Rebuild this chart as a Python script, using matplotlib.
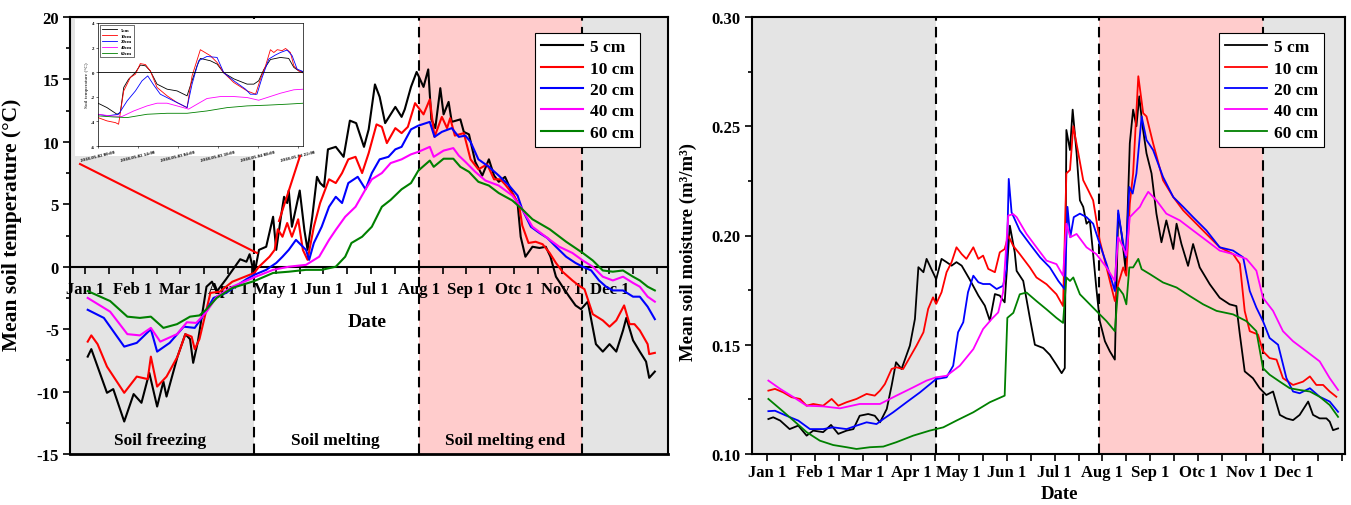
import numpy as np
import matplotlib.pyplot as plt
from matplotlib.lines import Line2D
from matplotlib.patches import Rectangle
from matplotlib.ticker import FixedLocator, MultipleLocator, FormatStrFormatter

plt.rcParams['font.family'] = ['Liberation Serif', 'DejaVu Serif']
plt.rcParams['font.weight'] = 'bold'
plt.rcParams['axes.unicode_minus'] = False

W, H = 1351, 506

months = ['Jan 1', 'Feb 1', 'Mar 1', 'Apr 1', 'May 1', 'Jun 1', 'Jul 1',
          'Aug 1', 'Sep 1', 'Otc 1', 'Nov 1', 'Dec 1']
depths = ['5 cm', '10 cm', '20 cm', '40 cm', '60 cm']
depths_inset = ['5cm', '10cm', '20cm', '40cm', '60cm']
colors = ['black', 'red', 'blue', 'magenta', 'green']
stages = ['Soil freezing', 'Soil melting', 'Soil melting end']

# ---- mean soil temperature (day of year, degC) ----
t5_day = [1.7, 4, 8, 14, 18, 25, 31, 36, 41, 46, 50, 52, 59, 64, 67, 69, 72, 77.5, 81, 84, 90, 94.5,
          99, 103, 105, 108, 111, 115.6, 120, 122, 125, 127, 129, 130, 132, 137, 140, 142, 145, 148,
          150, 152.5, 155, 160, 165, 169, 173, 178, 181, 185, 188, 191.5, 198, 202, 204, 208, 211.6,
          216, 219, 221, 223.5, 226.7, 228.8, 232, 234, 239.5, 241.7, 245, 249, 253.5, 257.7, 261,
          264, 268, 272.7, 276, 278, 281, 285.5, 290, 294, 297, 300.5, 304.7, 309, 313, 316.5, 320.8,
          326, 330.4, 334.7, 339, 343.3, 345.4, 349.7, 354, 358, 360, 363.6]
t5 = [-7.2, -6.6, -8.0, -10.1, -9.8, -12.4, -10.2, -10.9, -8.5, -11.2, -9.2, -10.4, -7.2, -5.4, -5.8,
      -7.7, -6.0, -1.6, -1.2, -2.0, -1.0, -0.2, 0.6, 0.4, 1.0, -0.6, 1.35, 1.6, 4.0, 1.35, 4.0, 5.6,
      5.1, 6.1, 3.2, 6.1, 2.9, 1.35, 4.0, 7.2, 6.7, 6.4, 9.4, 9.6, 8.8, 11.7, 11.5, 9.6, 11.0, 14.6,
      13.6, 11.5, 12.8, 12.0, 12.6, 14.4, 15.6, 14.4, 15.8, 11.8, 11.1, 14.3, 12.2, 13.2, 11.6, 11.8,
      10.8, 10.6, 8.4, 7.3, 8.6, 7.3, 6.8, 7.2, 5.9, 5.1, 2.4, 0.8, 1.6, 1.5, 1.6, 0.8, -0.8, -1.6,
      -2.4, -3.1, -3.4, -2.8, -6.2, -6.8, -6.2, -6.8, -5.1, -4.1, -5.9, -6.8, -7.6, -8.9, -8.4]

t10_day = [1.7, 4, 8, 14, 25, 33, 40, 42, 46, 52, 59, 64, 68, 70, 73, 80, 86, 94, 108, 111, 117.7,
           121, 123, 126, 129, 132, 136, 139, 142, 146, 150, 155.7, 160, 164, 168, 172.6, 176.8, 181,
           186, 189.4, 192.6, 198, 202, 206, 210.6, 216, 220, 223, 227.7, 231, 233, 236, 241.7, 246,
           251, 256.6, 261, 265, 268, 273.7, 277, 279, 283, 287.5, 292, 296.5, 300.5, 304.7, 311,
           315, 318.7, 324, 330.4, 334.7, 339, 344, 347.5, 350.6, 354, 359, 360, 363.6]
t10 = [-6.0, -5.5, -6.2, -8.0, -10.1, -8.8, -9.0, -7.2, -9.6, -8.8, -7.2, -5.4, -5.6, -6.6, -5.8,
       -2.1, -2.0, -1.2, -0.5, 0.0, 0.8, 1.35, 3.0, 2.4, 3.5, 2.4, 3.8, 1.35, 0.55, 3.2, 5.1, 7.0,
       6.7, 7.5, 8.6, 8.8, 7.5, 9.1, 11.4, 11.2, 9.9, 11.1, 10.7, 11.2, 13.1, 12.2, 13.4, 10.4, 12.0,
       11.1, 11.9, 10.5, 10.7, 8.6, 7.8, 8.2, 7.0, 7.0, 6.6, 5.7, 4.9, 3.3, 1.9, 2.0, 1.8, 1.1, 0.3,
       -0.4, -1.1, -1.5, -1.8, -3.8, -4.3, -4.8, -4.3, -3.1, -4.6, -4.6, -5.1, -6.2, -7.0, -6.9]

t20_day = [1.7, 12, 25, 33, 42, 46, 54, 63, 70, 75, 82, 90, 103, 108, 115.6, 122, 126, 130, 134.6,
           139, 141, 143, 146, 151, 155.7, 160, 164, 168, 174, 179, 183, 188, 193.6, 198, 202, 208,
           212.7, 220, 223, 227.7, 234, 238.5, 242.7, 246, 251, 257.7, 264, 270.6, 276, 279, 284.5,
           290, 295, 300.5, 307, 313, 317.6, 323, 328, 332.5, 336.8, 343.3, 349.7, 354, 359, 363.6]
t20 = [-3.45, -4.1, -6.4, -6.1, -5.0, -6.8, -6.1, -4.8, -4.9, -4.0, -2.5, -2.1, -1.0, -0.65, -0.25,
       0.3, 0.8, 1.35, 2.15, 1.6, 1.35, 0.55, 1.9, 3.2, 4.8, 5.6, 5.1, 6.7, 7.2, 6.2, 7.5, 8.6, 8.8,
       9.4, 9.6, 11.0, 11.3, 11.6, 10.4, 10.8, 11.1, 10.4, 10.5, 10.0, 8.6, 8.0, 7.3, 6.5, 5.7, 4.6,
       3.2, 2.7, 2.3, 1.6, 0.8, 0.3, 0.0, -0.3, -1.1, -1.6, -1.9, -1.9, -2.4, -2.4, -3.2, -4.2]

t40_day = [1.7, 16, 27, 35, 42, 48, 58.7, 65, 71, 77.6, 84, 94, 108, 120, 130, 141, 149.4, 155.7,
           160, 166, 172.6, 179, 183, 189.4, 195, 202, 208, 212.7, 220, 222.5, 228.8, 235, 238.5,
           242.7, 249, 255.5, 264, 272.7, 279, 285.5, 294, 302.6, 311, 317.6, 324, 330.4, 336.8,
           343.3, 349.7, 354, 359, 363.6]
t40 = [-2.5, -3.6, -5.4, -5.5, -4.9, -6.0, -5.4, -4.45, -4.5, -3.6, -2.4, -1.6, -0.85, -0.25, 0.0,
       0.15, 0.8, 2.15, 2.95, 4.0, 4.8, 6.2, 7.0, 7.5, 8.3, 8.6, 9.0, 9.2, 9.6, 8.8, 9.3, 9.5, 8.9,
       8.4, 7.6, 6.9, 6.5, 5.7, 4.6, 3.2, 2.4, 1.6, 1.1, 0.5, 0.0, -0.8, -1.1, -0.8, -1.3, -1.6,
       -2.4, -2.8]

t60_day = [1.7, 16, 27, 35, 42, 50, 58.7, 67, 73, 77.6, 84, 94, 108, 120, 130, 141, 151, 160, 166,
           170, 176.8, 183, 189.4, 195, 202, 208, 212.7, 220, 222.5, 228.8, 235, 239.5, 245, 251,
           257.7, 264, 272.7, 279, 285.5, 296.5, 307, 317.6, 324, 330.4, 336.8, 343.3, 349.7, 354,
           359, 363.6]
t60 = [-1.95, -2.75, -4.0, -4.1, -4.0, -4.9, -4.6, -4.0, -3.9, -3.4, -2.5, -1.7, -1.15, -0.5, -0.4,
       -0.25, -0.25, 0.0, 0.8, 1.9, 2.4, 3.2, 4.8, 5.35, 6.2, 6.7, 7.7, 8.5, 8.0, 8.65, 8.65, 8.0,
       7.6, 6.8, 6.5, 5.9, 5.3, 4.6, 3.8, 3.0, 2.0, 1.1, 0.5, -0.3, -0.4, -0.3, -0.8, -1.1, -1.6,
       -1.9]

# ---- mean soil moisture (day of year, m3/m3) ----
m5_day = [0.7, 3.8, 8.2, 14.2, 19.7, 25.0, 29.2, 35.5, 40.5, 45.1, 50.4, 54.7, 58.7, 64.1, 68.3,
          71.6, 75.9, 79.0, 81.8, 85.3, 90.6, 93.8, 96.0, 99.2, 101.2, 104.2, 107.3, 110.7, 113.9,
          117.1, 120.2, 123.5, 128.5, 134.1, 138.2, 141.4, 144.6, 147.7, 150.8, 154.1, 157.2, 158.4,
          162.6, 166.8, 170.0, 175.3, 179.5, 183.7, 187.0, 189.0, 190.0, 192.3, 194.0, 196.5, 198.6,
          200.7, 202.8, 204.9, 207.0, 209.0, 211.2, 214.5, 217.6, 220.8, 222.9, 225.1, 227.7, 230.3,
          232.4, 234.5, 236.3, 238.4, 240.9, 244.1, 247.2, 250.4, 253.5, 257.9, 260.0, 263.1, 267.3,
          270.5, 274.7, 281.1, 287.4, 293.7, 298.0, 300.2, 303.3, 308.5, 312.8, 317.0, 321.3, 325.6,
          329.8, 334.0, 338.2, 343.6, 346.7, 350.9, 355.2, 357.3, 359.4, 362.6]
m5 = [0.116, 0.1168, 0.1153, 0.1114, 0.113, 0.1084, 0.1107, 0.110, 0.1133, 0.1092, 0.1107, 0.1114,
      0.1175, 0.1183, 0.1175, 0.1145, 0.1206, 0.1313, 0.142, 0.1389, 0.1496, 0.1618, 0.1855, 0.1832,
      0.1893, 0.1847, 0.180, 0.1893, 0.1878, 0.1862, 0.1878, 0.1862, 0.180, 0.1725, 0.1679, 0.161,
      0.1732, 0.1725, 0.1694, 0.2045, 0.1923, 0.1838, 0.1792, 0.1623, 0.150, 0.1485, 0.1454, 0.1408,
      0.137, 0.1393, 0.2483, 0.2391, 0.2576, 0.2376, 0.2161, 0.2131, 0.2054, 0.2069, 0.1916, 0.1762,
      0.1609, 0.1516, 0.147, 0.1432, 0.210, 0.2007, 0.1838, 0.2422, 0.2576, 0.250, 0.2637, 0.250,
      0.2376, 0.2284, 0.210, 0.1969, 0.2069, 0.1938, 0.2054, 0.1961, 0.1861, 0.1961, 0.1854, 0.1777,
      0.1715, 0.1685, 0.1677, 0.1547, 0.1378, 0.1347, 0.1301, 0.127, 0.1286, 0.1179, 0.1163, 0.1155,
      0.1179, 0.124, 0.1179, 0.1163, 0.1163, 0.1148, 0.1109, 0.1117]

m10_day = [0.7, 4.9, 10.2, 15.4, 20.8, 25.0, 29.2, 35.5, 40.9, 45.1, 50.4, 56.7, 63.1, 68.3, 71.6,
           74.7, 79.0, 82.0, 86.3, 90.6, 94.8, 99.2, 102.2, 105.3, 107.3, 110.7, 113.9, 117.1, 120.2,
           123.5, 126.5, 130.9, 134.1, 137.1, 140.4, 144.6, 147.7, 150.8, 153.1, 156.2, 160.4, 166.8,
           171.0, 177.4, 183.7, 187.9, 190.0, 192.3, 194.4, 197.6, 200.7, 203.9, 207.0, 211.2, 215.5,
           220.8, 222.9, 226.1, 228.1, 230.3, 232.4, 235.7, 238.8, 240.9, 245.1, 251.4, 257.9, 264.2,
           270.5, 279.0, 287.4, 295.9, 300.2, 303.3, 306.5, 311.7, 314.9, 319.1, 323.5, 327.6, 334.0,
           340.3, 344.7, 348.8, 353.1, 357.3, 361.5]
m10 = [0.129, 0.1298, 0.1282, 0.126, 0.1252, 0.1221, 0.1229, 0.1221, 0.1252, 0.1221, 0.1237, 0.1252,
       0.1275, 0.1267, 0.129, 0.132, 0.1389, 0.1397, 0.1389, 0.1443, 0.1496, 0.1557, 0.1664, 0.1717,
       0.1687, 0.174, 0.1832, 0.1878, 0.1946, 0.1915, 0.1893, 0.1946, 0.1893, 0.1908, 0.1847, 0.1832,
       0.1923, 0.1938, 0.20, 0.1953, 0.1915, 0.1854, 0.1808, 0.1777, 0.1731, 0.1677, 0.2284, 0.230,
       0.250, 0.2376, 0.2253, 0.2207, 0.2161, 0.1977, 0.1854, 0.170, 0.1777, 0.1854, 0.1816, 0.2146,
       0.2284, 0.2729, 0.256, 0.2545, 0.2422, 0.2253, 0.2176, 0.2115, 0.2069, 0.2007, 0.1946, 0.1915,
       0.187, 0.1654, 0.1562, 0.1547, 0.147, 0.1439, 0.1432, 0.1347, 0.1316, 0.1331, 0.1355, 0.1316,
       0.1316, 0.1286, 0.1262]

m20_day = [0.7, 4.9, 12.2, 19.7, 27.1, 35.5, 41.9, 50.4, 56.7, 63.1, 69.4, 73.7, 80.0, 88.5, 97.0,
           107.3, 113.9, 118.1, 121.2, 124.5, 127.5, 130.9, 134.1, 137.1, 141.4, 145.7, 149.8, 152.0,
           153.4, 155.2, 160.4, 166.8, 173.3, 179.5, 184.9, 189.0, 190.7, 192.5, 194.7, 198.6, 202.8,
           207.0, 211.2, 215.5, 220.8, 222.9, 225.1, 227.7, 230.0, 232.1, 234.5, 237.8, 240.9, 245.1,
           251.4, 257.9, 264.2, 270.5, 279.0, 287.4, 295.9, 302.3, 306.5, 310.7, 314.9, 319.1, 324.5,
           329.8, 334.0, 338.2, 344.7, 350.9, 357.3, 362.6]
m20 = [0.1196, 0.1198, 0.1175, 0.1153, 0.1114, 0.1114, 0.1122, 0.1114, 0.113, 0.1145, 0.1137, 0.116,
       0.1191, 0.1237, 0.1282, 0.1343, 0.1351, 0.1404, 0.1557, 0.1603, 0.174, 0.1816, 0.1786, 0.1778,
       0.1778, 0.1755, 0.177, 0.1847, 0.2259, 0.2106, 0.2023, 0.1961, 0.19, 0.1854, 0.1792, 0.1754,
       0.2131, 0.1992, 0.2084, 0.21, 0.2084, 0.2054, 0.1961, 0.187, 0.1746, 0.2115, 0.2007, 0.19,
       0.2222, 0.2192, 0.2284, 0.2545, 0.2437, 0.2391, 0.2268, 0.2176, 0.2131, 0.2084, 0.2023, 0.1946,
       0.1931, 0.19, 0.1746, 0.167, 0.1608, 0.1531, 0.150, 0.1347, 0.1286, 0.1278, 0.1301, 0.1262,
       0.124, 0.1193]

m40_day = [0.7, 8.2, 16.7, 25.0, 35.5, 46.2, 58.7, 71.6, 82.0, 92.7, 101.2, 107.3, 113.9, 122.3,
           130.9, 137.1, 142.6, 146.7, 149.8, 153.1, 156.2, 158.4, 164.7, 171.0, 177.4, 183.7, 187.9,
           190.0, 192.5, 196.5, 202.8, 209.0, 215.5, 220.8, 222.9, 226.1, 228.1, 230.3, 233.4, 236.7,
           238.8, 242.0, 247.2, 253.5, 262.1, 270.5, 279.0, 287.4, 295.9, 304.4, 310.7, 314.9, 321.3,
           327.6, 334.0, 342.5, 350.9, 357.3, 362.6]
m40 = [0.1336, 0.1298, 0.126, 0.1221, 0.1218, 0.1209, 0.1229, 0.1229, 0.1267, 0.1305, 0.1336, 0.1351,
       0.1358, 0.1404, 0.148, 0.1572, 0.1618, 0.1648, 0.174, 0.2091, 0.2098, 0.2084, 0.2007, 0.1946,
       0.1885, 0.1869, 0.1816, 0.2054, 0.1992, 0.2007, 0.1946, 0.1915, 0.1854, 0.1792, 0.1992, 0.1946,
       0.1908, 0.2084, 0.2107, 0.2131, 0.2161, 0.22, 0.2161, 0.21, 0.2069, 0.2023, 0.1977, 0.1931,
       0.1915, 0.1893, 0.1839, 0.1715, 0.1655, 0.1562, 0.1516, 0.147, 0.1424, 0.1347, 0.1293]

m60_day = [0.7, 8.2, 16.7, 25.0, 33.4, 41.9, 50.4, 56.7, 65.2, 73.7, 82.0, 92.7, 103.2, 111.8, 120.2,
           130.9, 141.4, 150.8, 152.5, 156.3, 160.4, 164.7, 171.0, 177.4, 183.7, 187.9, 190.0, 192.3,
           194.4, 198.6, 204.9, 211.2, 215.5, 220.8, 222.9, 226.1, 228.1, 230.0, 232.4, 235.7, 237.8,
           243.1, 251.4, 260.0, 268.4, 276.9, 285.4, 295.9, 304.4, 310.7, 314.9, 319.1, 325.6, 331.9,
           338.2, 344.7, 350.9, 357.3, 362.6]
m60 = [0.1252, 0.1206, 0.1153, 0.110, 0.1061, 0.1041, 0.1031, 0.1023, 0.1031, 0.1034, 0.1054, 0.1084,
       0.1107, 0.1122, 0.1153, 0.1191, 0.1237, 0.1267, 0.1623, 0.1646, 0.1731, 0.1739, 0.170, 0.1662,
       0.1623, 0.160, 0.1808, 0.1792, 0.1808, 0.1731, 0.1685, 0.1639, 0.1608, 0.1562, 0.1762, 0.1731,
       0.1685, 0.1854, 0.1854, 0.1893, 0.1846, 0.1823, 0.1785, 0.1762, 0.1723, 0.1685, 0.1655, 0.1639,
       0.1608, 0.1562, 0.1393, 0.1363, 0.1331, 0.1301, 0.1293, 0.1286, 0.1262, 0.1224, 0.117]

# ---- inset: hourly soil temperature from 2018-05-02 00:00 ----
inset_ticks = ['2018-05-02 00:00', '2018-05-02 14:00', '2018-05-03 04:00',
               '2018-05-03 18:00', '2018-05-04 08:00', '2018-05-04 22:00']
h5 = [0, 3.15, 6.65, 7.8, 9, 10.7, 13.1, 14.8, 16.6, 18.3, 20.65, 24.15, 27.65, 31.15, 32.3, 34.65,
      35.8, 39.3, 41.65, 44, 47.5, 52.15, 54.5, 56.2, 58, 60.3, 63.8, 66.7, 68.5, 70.2, 72]
i5 = [-2.52, -2.88, -3.42, -3.28, -1.24, -0.57, -0.02, 0.58, 0.52, 0.1, -0.97, -1.38, -1.52, -1.92,
      -1.1, 0.52, 1.12, 0.93, 0.66, -0.05, -0.54, -0.97, -0.97, -0.7, 0.22, 1.03, 1.2, 1.12, 0.39,
      0.11, 0.03]
h10 = [0, 3.15, 6.1, 7.2, 9, 11.3, 13.1, 14.8, 16.6, 18.3, 20.65, 24.15, 27.65, 31.15, 32.9, 35.8,
       39.3, 41.65, 44, 47.5, 52.15, 55.1, 56.8, 58.6, 60.3, 61.5, 62.7, 64.4, 65.6, 67.3, 68.5,
       70.2, 72]
i10 = [-3.69, -3.96, -4.1, -4.23, -1.52, -0.43, -0.16, 0.7, 0.62, 0.1, -1.24, -1.92, -2.47, -2.88,
       -0.3, 1.83, 1.34, 0.79, -0.05, -0.84, -1.52, -1.79, -0.57, 0.52, 1.83, 1.6, 1.83, 1.75, 1.93,
       1.6, 0.52, 0.11, -0.09]
h20 = [0, 3.15, 7.2, 10.2, 13.1, 15.4, 17.4, 19.5, 21.8, 25.3, 28.8, 31.15, 32.9, 35.2, 38.1, 41.65,
       44, 47.5, 51.6, 53.3, 55.6, 57.4, 59.75, 62, 63.8, 66.15, 67.9, 69.65, 72]
i20 = [-3.42, -3.55, -3.42, -2.33, -1.52, -0.7, -0.3, -1.05, -1.79, -2.2, -2.6, -2.88, -0.97, 0.93,
       1.28, 1.2, -0.05, -0.7, -1.38, -1.79, -1.79, -0.43, 1.07, 1.39, 1.6, 1.8, 1.34, 0.25, 0.03]
h40 = [0, 4.3, 8.4, 12.5, 17.15, 20.65, 24.15, 27.65, 31.7, 34.65, 38.1, 42.8, 47.5, 52.15, 56.2,
       59.15, 63.8, 68.5, 72]
i40 = [-3.42, -3.55, -3.6, -3.15, -2.74, -2.52, -2.52, -2.74, -3.0, -2.6, -2.14, -1.98, -1.98, -2.06,
       -2.28, -2.06, -1.71, -1.43, -1.38]
h60 = [0, 5.5, 10.2, 17.15, 24.15, 31.15, 38.1, 45.15, 52.15, 59.15, 66.15, 72]
i60 = [-3.55, -3.64, -3.69, -3.42, -3.34, -3.34, -3.15, -2.88, -2.74, -2.68, -2.6, -2.52]

gray = '#e4e4e4'
pink = '#ffcccc'


def px_box(l, t, r, b):
    return [l / W, 1 - b / H, (r - l) / W, (b - t) / H]


def date_axis(ax):
    pos = np.arange(13) * 365 / 12
    ax.xaxis.set_major_locator(FixedLocator(pos[:12]))
    ax.set_xticklabels(months)
    ax.xaxis.set_minor_locator(FixedLocator(np.r_[pos[:12] + 365 / 24, pos[12]]))


def shade(ax, x0, x1, bounds):
    ax.axvspan(x0, bounds[0], color=gray, lw=0, zorder=0)
    ax.axvspan(bounds[1], bounds[2], color=pink, lw=0, zorder=0)
    ax.axvspan(bounds[2], x1, color=gray, lw=0, zorder=0)
    for b in bounds:
        ax.axvline(b, color='k', ls=(0, (5, 3)), lw=1.5, zorder=1)


def add_legend(ax, right_px):
    leg = ax.legend(loc='upper right', bbox_to_anchor=(right_px / W, 1 - 34 / H),
                    bbox_transform=fig.transFigure, borderaxespad=0,
                    fancybox=False, edgecolor='k', framealpha=1,
                    prop={'size': 12.5, 'weight': 'bold'}, handlelength=2.4,
                    labelspacing=0.3, borderpad=0.35, handletextpad=0.4)
    leg.get_frame().set_linewidth(0.8)


fig = plt.figure(figsize=(W / 100, H / 100), dpi=100)

# ---------------- left: temperature ----------------
ax1 = fig.add_axes(px_box(70, 18, 668, 455))
ax1.set_xlim(-9.6, 372)
ax1.set_ylim(-15, 20)
shade(ax1, -9.6, 372, [108, 213, 317])

temp_days = [t5_day, t10_day, t20_day, t40_day, t60_day]
temps = [t5, t10, t20, t40, t60]
for d, v, c, lab in zip(temp_days, temps, colors, depths):
    ax1.plot(d, v, color=c, lw=1.5, label=lab, zorder=3)

date_axis(ax1)
ax1.spines['bottom'].set_position(('data', 0))
for s in ax1.spines.values():
    s.set_linewidth(1.5)
ax1.plot([0, 1], [0, 0], transform=ax1.transAxes, color='k', lw=2, clip_on=False)
ax1.yaxis.set_major_locator(MultipleLocator(5))
ax1.yaxis.set_minor_locator(MultipleLocator(2.5))
ax1.tick_params(axis='x', which='both', direction='out', length=5, width=1.2,
                labelsize=12, pad=5.5)
ax1.tick_params(axis='y', which='major', direction='out', length=5, width=1.2,
                labelsize=12, pad=3)
ax1.tick_params(axis='y', which='minor', direction='out', length=3, width=1.2)
ax1.set_ylabel('Mean soil temperature (°C)', fontsize=15.5, fontweight='bold')
ax1.yaxis.set_label_coords(-0.080, 0.526)
ax1.text(179.8, -4.4, 'Date', fontsize=14, fontweight='bold', ha='center', va='center')
for xs, s in zip([47.8, 159.4, 267.9], stages):
    ax1.text(xs, -13.85, s, fontsize=12.5, fontweight='bold', ha='center', va='center')
add_legend(ax1, 640)

# ---------------- right: moisture ----------------
ax2 = fig.add_axes(px_box(752, 18, 1345, 455))
ax2.set_xlim(-9.7, 367)
ax2.set_ylim(0.10, 0.30)
shade(ax2, -9.7, 367, [107, 211, 315])

moist_days = [m5_day, m10_day, m20_day, m40_day, m60_day]
moists = [m5, m10, m20, m40, m60]
for d, v, c, lab in zip(moist_days, moists, colors, depths):
    ax2.plot(d, v, color=c, lw=1.3, label=lab, zorder=3)

date_axis(ax2)
for s in ax2.spines.values():
    s.set_linewidth(1.5)
ax2.yaxis.set_major_locator(MultipleLocator(0.05))
ax2.yaxis.set_minor_locator(MultipleLocator(0.025))
ax2.yaxis.set_major_formatter(FormatStrFormatter('%.2f'))
ax2.tick_params(axis='x', which='both', direction='out', length=5, width=1.2,
                labelsize=12, pad=2)
ax2.tick_params(axis='y', which='major', direction='out', length=5, width=1.2,
                labelsize=12, pad=3)
ax2.tick_params(axis='y', which='minor', direction='out', length=3, width=1.2)
ax2.set_ylabel('Mean soil moisture (m³/m³)', fontsize=13.5, fontweight='bold')
ax2.yaxis.set_label_coords(-0.092, 0.465)
ax2.text(0.518, -0.090, 'Date', transform=ax2.transAxes, fontsize=13.5, fontweight='bold',
         ha='center', va='center')
add_legend(ax2, 1324)

# ---------------- inset ----------------
bg = Rectangle((75 / W, 1 - 157 / H), (312 - 75) / W, (157 - 20) / H, transform=fig.transFigure,
               facecolor='white', edgecolor='none', zorder=2)
fig.add_artist(bg)
ins = fig.add_axes(px_box(98, 24, 303, 147))
ins.set_zorder(3)
inset_h = [h5, h10, h20, h40, h60]
inset_v = [i5, i10, i20, i40, i60]
for d, v, c, lab in zip(inset_h, inset_v, colors, depths_inset):
    ins.plot(d, v, color=c, lw=0.6, label=lab)
ins.axhline(0, color='k', lw=0.6)
ins.set_xlim(0, 71.7)
ins.set_ylim(-6, 4)
ins.set_xticks([0, 14, 28, 42, 56, 70])
ins.set_xticklabels(inset_ticks, rotation=14, fontsize=3)
ins.set_yticks([-6, -4, -2, 0, 2, 4])
ins.tick_params(labelsize=3.5, length=1.5, width=0.4, pad=1)
for s in ins.spines.values():
    s.set_linewidth(0.5)
ins.set_ylabel('Soil temperature (°C)', fontsize=3.8, labelpad=1)
ins.legend(loc='upper left', fontsize=3.5, fancybox=False, edgecolor='k', framealpha=1,
           handlelength=3, borderpad=0.4, labelspacing=0.3).get_frame().set_linewidth(0.4)

# connector lines from the inset to the zoomed period
for (x0, y0), (x1, y1) in [((80, 165), (257, 254)), ((300, 157), (279, 222))]:
    fig.add_artist(Line2D([x0 / W, x1 / W], [1 - y0 / H, 1 - y1 / H], transform=fig.transFigure,
                          color='red', lw=1.5, zorder=4))

fig.savefig('out.png', dpi=100)
